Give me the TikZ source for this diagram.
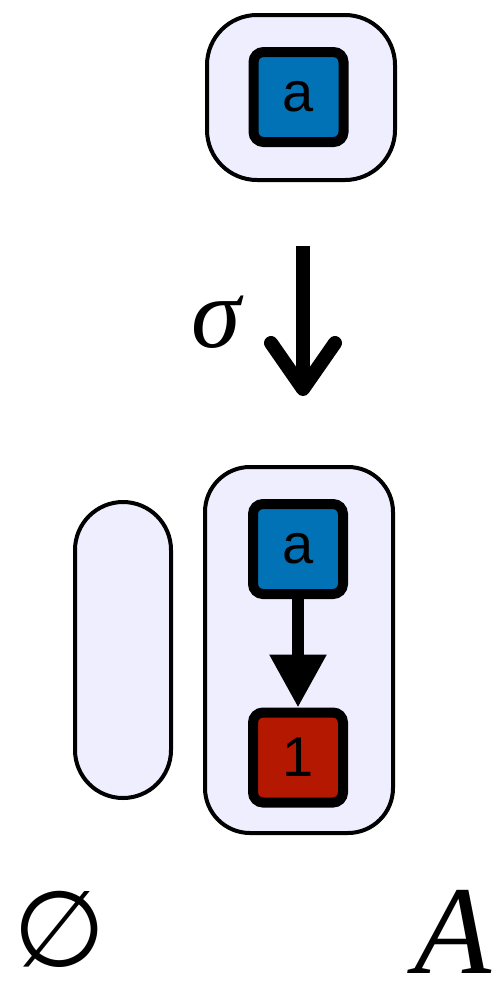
\documentclass[tikz,border=0pt]{standalone}
\usepackage{fontspec}
\setmainfont{Liberation Serif}
\newfontfamily\labsans{Liberation Sans}
\newfontfamily\dvsans{DejaVu Sans}
\usetikzlibrary{arrows.meta}
\definecolor{lav}{RGB}{238,238,255}
\definecolor{varblue}{RGB}{0,114,181}
\definecolor{valred}{RGB}{180,24,0}
\tikzset{
  group/.style={draw=black, fill=lav, line width=4pt, inner sep=0pt},
  tok/.style={draw=black, line width=10pt, rounded corners=10pt, minimum size=90pt, inner sep=0pt, font=\labsans\fontsize{56}{56}\selectfont},
  bigarrow/.style={line width=14pt, line cap=butt, -{Straight Barb[length=46pt, width=64pt, line cap=round, line join=round]}},
  smallarrow/.style={line width=12pt, -{Triangle[length=53pt, width=54pt]}},
  biglabel/.style={inner sep=0pt}
}
\begin{document}
\begin{tikzpicture}[x=1pt,y=-1pt]
\useasboundingbox (0,0) rectangle (497,986);
% top
\node[group, rounded corners=50pt, minimum width=188pt, minimum height=165pt] (top) at (301,97.5) {};
\node[tok, fill=varblue] (a0) at (298.5,97) {a};
% sigma arrow
\coordinate (s0) at (303,246);
\coordinate (s1) at (303,396);
\draw[bigarrow] (s0) -- (s1);
\node[biglabel, font=\itshape\fontsize{100}{100}\selectfont] (sigma) at (216,322) {σ};
% bottom
\node[group, rounded corners=48pt, minimum width=96pt, minimum height=296pt] (empty) at (123,650) {};
\node[group, rounded corners=45pt, minimum width=188pt, minimum height=366pt] (setA) at (299,650) {};
\node[tok, fill=varblue] (a1) at (298,549) {a};
\node[tok, fill=valred] (one) at (298,757.5) {1};
\draw[smallarrow] (a1.south) -- (one.north);
\node[biglabel, anchor=base, font=\dvsans\fontsize{106}{106}\selectfont] (emptylab) at (60,966) {∅};
\node[biglabel, anchor=base, font=\itshape\fontsize{126}{126}\selectfont] (Alab) at (453,973) {A};
\end{tikzpicture}
\end{document}
